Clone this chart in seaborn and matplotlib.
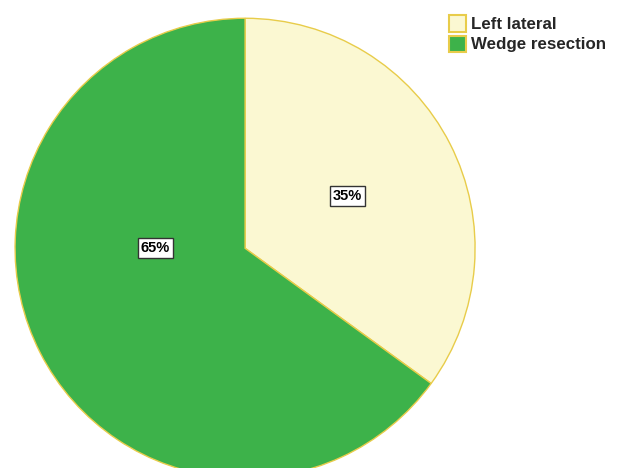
import matplotlib
matplotlib.use("Agg")
import matplotlib.pyplot as plt
import seaborn as sns
from matplotlib.patches import Patch

sns.set_theme(style="white")
plt.rcParams["font.family"] = ["Liberation Sans", "DejaVu Sans"]

# data
categories = ["Left lateral", "Wedge resection"]
shares = [35, 65]
colors = ["#FBF8D2", "#3DB24A"]
edge = "#E8CC4A"

fig = plt.figure(figsize=(6.28, 4.68), dpi=100)
ax = fig.add_axes([0.024, -0.022, 0.7325, 0.983])

wedges, texts = ax.pie(shares, colors=colors, startangle=90, counterclock=False,
                       labels=[f"{s}%" for s in shares], labeldistance=0.5,
                       wedgeprops={"edgecolor": edge, "linewidth": 1.0})
for t in texts:
    t.set_ha("center")
    t.set_va("center")
    t.set_fontsize(10.5)
    t.set_fontweight("bold")
    t.set_color("black")
    t.set_bbox({"facecolor": "white", "edgecolor": "#333333", "boxstyle": "square,pad=0.2", "linewidth": 1})
# SPSS puts the big slice label near the middle
texts[1].set_position((-0.39, 0.0))
ax.set_xlim(-1, 1)
ax.set_ylim(-1, 1)
ax.set_aspect("equal")
ax.axis("off")

handles = [Patch(facecolor=c, edgecolor=edge, linewidth=1.5) for c in colors]
leg = fig.legend(handles, categories, loc="upper left", bbox_to_anchor=(0.69, 1.0),
                 frameon=False, handlelength=1.0, handleheight=1.1, handletextpad=0.3,
                 labelspacing=0.2, prop={"weight": "bold", "size": 12.2})

fig.savefig("out.png", dpi=100)
